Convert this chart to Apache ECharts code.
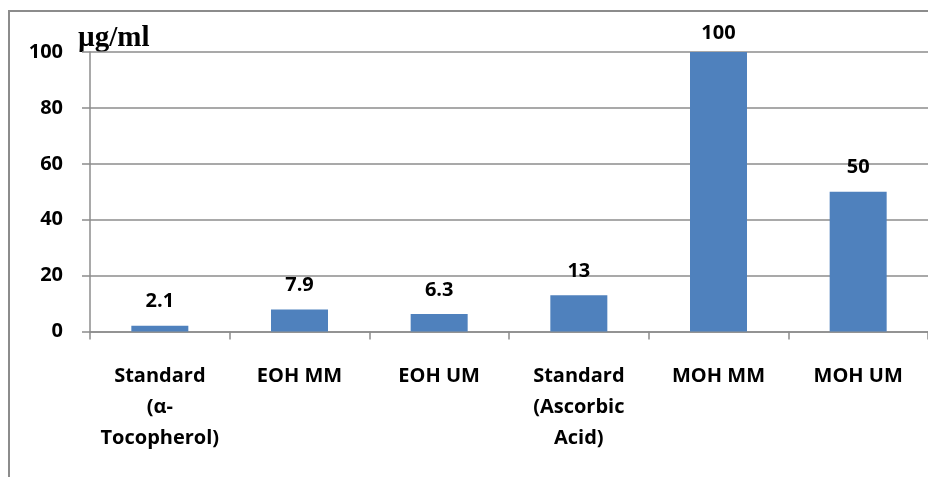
<!DOCTYPE html>
<html><head><meta charset="utf-8">
<script src="https://cdn.jsdelivr.net/npm/echarts@6/dist/echarts.min.js"></script>
<style>html,body{margin:0;padding:0;background:#fff}#c{width:928px;height:477px}</style>
</head><body><div id="c"></div>
<script>
var categories = ["Standard\n(α-\nTocopherol)", "EOH MM", "EOH UM", "Standard\n(Ascorbic\nAcid)", "MOH MM", "MOH UM"];
var values = [2.1, 7.9, 6.3, 13, 100, 50];
var yTicks = [0, 20, 40, 60, 80, 100];
var unitLabel = "µg/ml";

var chart = echarts.init(document.getElementById('c'), null, {renderer: 'canvas'});
var gray = '#8c8c8c';
var font = '"Open Sans", sans-serif';
var yMax = Math.max.apply(null, yTicks);
var data = values.map(function (v) {
  return v >= yMax ? {value: v, label: {distance: 9}} : v;
});
chart.setOption({
  animation: false,
  backgroundColor: '#fff',
  graphic: [
    {type: 'rect', shape: {x: 9, y: 11, width: 1000, height: 1000}, style: {fill: 'none', stroke: gray, lineWidth: 2}, z: -1},
    {type: 'text', left: 78, top: 24, style: {text: unitLabel, font: 'bold 29px "Liberation Serif", "Times New Roman", serif', fill: '#000'}}
  ],
  grid: {left: 90, top: 52, width: 846, height: 279.5, containLabel: false},
  xAxis: {
    type: 'category', data: categories,
    axisLine: {lineStyle: {color: gray, width: 1.5}},
    axisTick: {show: true, length: 8, lineStyle: {color: gray, width: 1.5}},
    axisLabel: {margin: 29, interval: 0, color: '#000', fontFamily: font, fontWeight: 'bold', fontSize: 20, lineHeight: 31}
  },
  yAxis: {
    type: 'value', min: 0, max: yMax, interval: 20,
    axisLine: {show: true, lineStyle: {color: gray, width: 1.5}},
    axisTick: {show: true, length: 8, lineStyle: {color: gray, width: 1.5}},
    splitLine: {show: true, lineStyle: {color: gray, width: 1.5}},
    axisLabel: {margin: 27, color: '#000', fontFamily: font, fontWeight: 'bold', fontSize: 20}
  },
  series: [{
    type: 'bar', data: data, barWidth: 57,
    itemStyle: {color: '#4F81BD'},
    label: {show: true, position: 'top', distance: 14, color: '#000', fontFamily: font, fontWeight: 'bold', fontSize: 20}
  }]
});
</script></body></html>
